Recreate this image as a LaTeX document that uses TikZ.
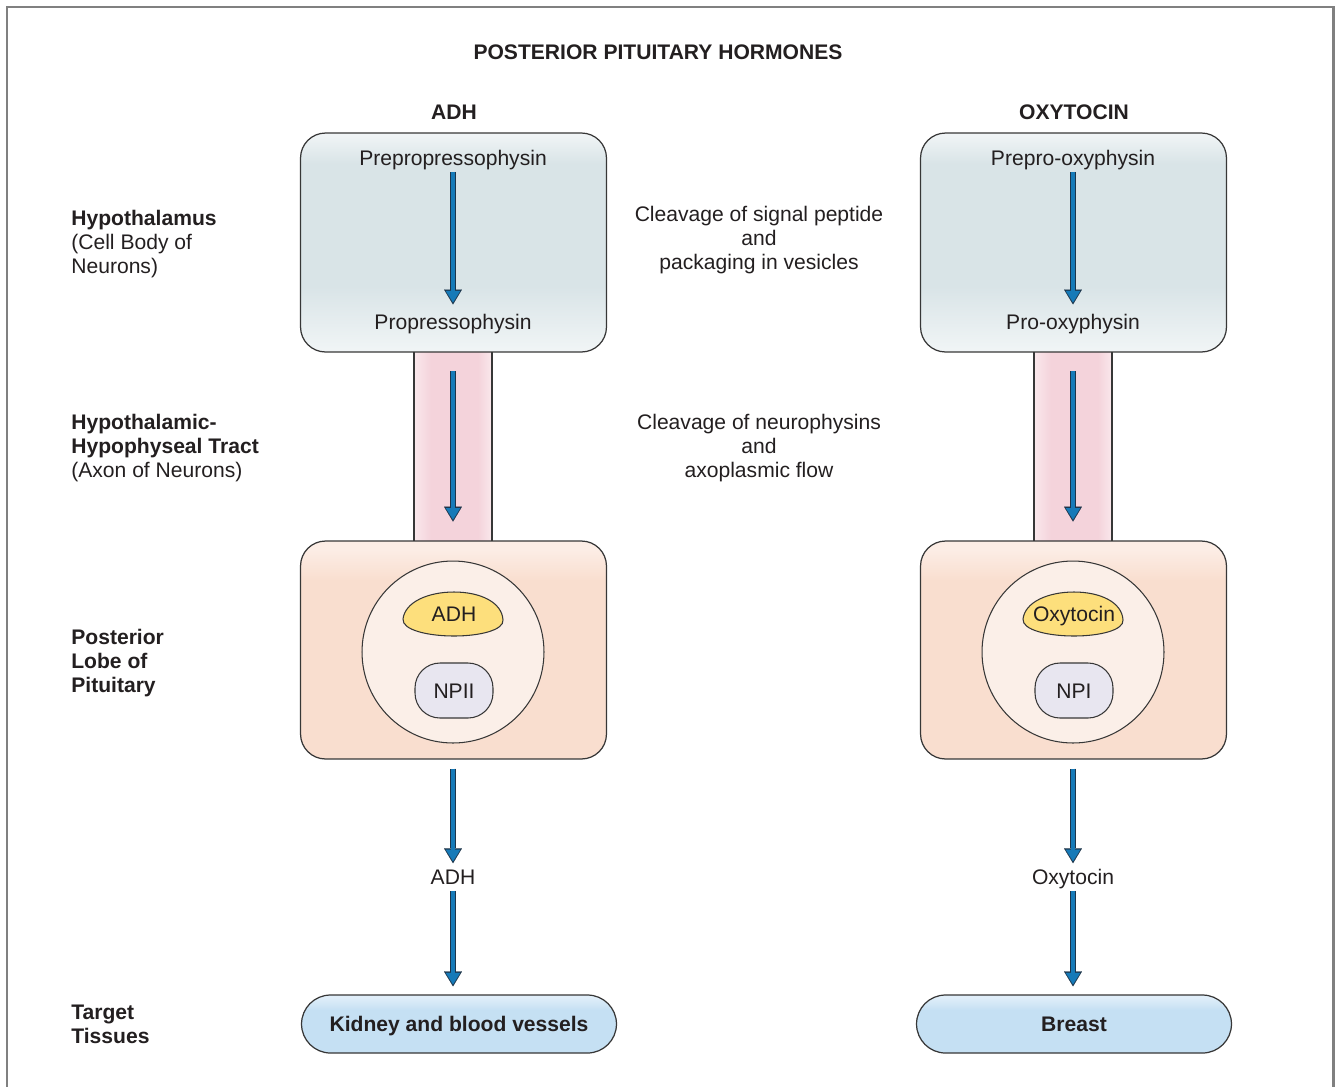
\documentclass[tikz,border=0pt]{standalone}
\usepackage{fontspec}
\setmainfont{Liberation Sans}
\usetikzlibrary{arrows.meta,calc}

\definecolor{inkgray}{RGB}{35,31,32}
\definecolor{edgegray}{RGB}{55,55,55}
\definecolor{framegray}{RGB}{128,128,128}
\definecolor{flowblue}{RGB}{22,122,184}
\definecolor{flowedge}{RGB}{28,52,74}
\definecolor{cellhi}{RGB}{241,245,246}
\definecolor{cellmid}{RGB}{217,228,231}
\definecolor{tracthi}{RGB}{250,232,236}
\definecolor{tractmid}{RGB}{244,211,219}
\definecolor{lobehi}{RGB}{252,237,229}
\definecolor{lobemid}{RGB}{249,222,207}
\definecolor{vesiclefill}{RGB}{251,239,232}
\definecolor{hormoneyellow}{RGB}{253,223,124}
\definecolor{npfill}{RGB}{232,230,240}
\definecolor{targethi}{RGB}{224,238,249}
\definecolor{targetmid}{RGB}{197,224,243}

\pgfdeclareverticalshading{cellshade}{100bp}{color(0bp)=(cellhi); color(25bp)=(cellhi); color(40bp)=(cellmid); color(68bp)=(cellmid); color(75bp)=(cellhi); color(100bp)=(cellhi)}
\pgfdeclarehorizontalshading{tractshade}{100bp}{color(0bp)=(tracthi); color(25bp)=(tracthi); color(36bp)=(tractmid); color(66bp)=(tractmid); color(75bp)=(tracthi); color(100bp)=(tracthi)}
\pgfdeclareverticalshading{lobeshade}{100bp}{color(0bp)=(lobemid); color(25bp)=(lobemid); color(66bp)=(lobemid); color(73bp)=(lobehi); color(100bp)=(lobehi)}
\pgfdeclareverticalshading{targetshade}{100bp}{color(0bp)=(targetmid); color(25bp)=(targetmid); color(62bp)=(targetmid); color(73bp)=(targethi); color(100bp)=(targethi)}

\newcommand{\figfont}{\fontsize{12pt}{13.6pt}\selectfont}

\begin{document}
\begin{tikzpicture}[x=0.02cm, y=-0.02cm, font=\figfont,
	every node/.style={text=inkgray},
	word/.style={text height=8.6pt, text depth=0pt},
	box/.style={draw=edgegray, line width=0.7pt, rounded corners=0.5cm, minimum width=6.12cm},
	cellbox/.style={box, minimum height=4.38cm, shade, shading=cellshade},
	lobebox/.style={box, minimum height=4.36cm, shade, shading=lobeshade},
	tract/.style={draw=edgegray, line width=0.7pt, minimum width=1.56cm, minimum height=3.94cm, shade, shading=tractshade},
	vesicle/.style={circle, draw=edgegray, line width=0.6pt, fill=vesiclefill, minimum size=3.64cm},
	blob/.style={draw=edgegray, line width=0.6pt, fill=hormoneyellow},
	npbox/.style={word, draw=edgegray, line width=0.6pt, fill=npfill, rounded corners=0.5cm, minimum width=1.56cm, minimum height=1.1cm},
	target/.style={word, draw=edgegray, line width=0.7pt, rounded corners=0.58cm, minimum width=6.3cm, minimum height=1.16cm, shade, shading=targetshade, font=\figfont\bfseries},
	flow/.style={preaction={draw=flowedge, line width=3.1pt, shorten >=0pt, -{Triangle[width=10.2pt,length=8.5pt,line width=0.1pt]}},
		draw=flowblue, line width=2pt, shorten >=1.1pt, -{Triangle[width=8.2pt,length=6.6pt,line width=0.1pt]}},
	sidelabel/.style={anchor=west, align=left, inner sep=0pt},
	note/.style={align=center},
	header/.style={word, font=\figfont\bfseries}]
	\useasboundingbox (0,0) rectangle (1335,1086);
	% frame, open at the bottom
	\draw[framegray, line width=1.7pt] (7,1095) -- (7,7) -- (1333,7) -- (1333,1095);
	\node[header] (title) at (658,52) {POSTERIOR PITUITARY HORMONES};
	% row labels
	\node[sidelabel] (hypo) at (71,244) {\textbf{Hypothalamus}\\(Cell Body of\\Neurons)};
	\node[sidelabel] (axon) at (71,448) {\textbf{Hypothalamic-}\\\textbf{Hypophyseal Tract}\\(Axon of Neurons)};
	\node[sidelabel, font=\figfont\bfseries] (lobelbl) at (71,663) {Posterior\\Lobe of\\Pituitary};
	\node[sidelabel, font=\figfont\bfseries] (tissues) at (71,1024) {Target\\Tissues};
	% steps between the columns
	\node[note] (step1) at (759,240) {Cleavage of signal peptide\\and\\packaging in vesicles};
	\node[note] (step2) at (759,448) {Cleavage of neurophysins\\and\\axoplasmic flow};
	% one column per hormone
	\foreach \cx/\tx/\hd/\pre/\pro/\hm/\np/\tgt/\id in {453/6/ADH/Prepropressophysin/Propressophysin/ADH/NPII/Kidney and blood vessels/a,
		1073/1/OXYTOCIN/Prepro-oxyphysin/Pro-oxyphysin/Oxytocin/NPI/Breast/b} {
		\begin{scope}[shift={(\cx,0)}]
			\node[header] (head\id) at (1,112) {\hd};
			\node[tract] (tract\id) at (0,446.5) {};
			\node[cellbox] (cell\id) at (0.5,242.5) {};
			\node[word] (pre\id) at (0,158) {\pre};
			\node[word, inner ysep=5.5pt] (pro\id) at (0,322) {\pro};
			\draw[flow] (pre\id) -- (pro\id);
			\draw[flow] ($(tract\id.north)+(0,24)$) -- ($(tract\id.south)-(0,24)$);
			\node[lobebox] (lobe\id) at (0.5,650) {};
			\node[vesicle] (ves\id) at (0,652) {};
			\coordinate (blob\id) at (1,614);
			\draw[blob, shift={(1,614)}] (-51,5) .. controls (-49,-12) and (-26,-22) .. (0,-22)
				.. controls (26,-22) and (48,-12) .. (49,6) .. controls (50,16) and (26,22) .. (0,22)
				.. controls (-26,22) and (-52,16) .. (-51,5) -- cycle;
			\node[word] (hm\id) at (blob\id) {\hm};
			\node[npbox] (np\id) at (1,690.5) {\np};
			\node[word] (rel\id) at (0,877) {\hm};
			\node[target] (tgt\id) at (\tx,1024) {\tgt};
			\draw[flow] ($(lobe\id.south -| rel\id)+(0,9)$) -- (rel\id);
			\draw[flow] (rel\id) -- ($(rel\id |- tgt\id.north)-(0,8)$);
		\end{scope}
	}
\end{tikzpicture}
\end{document}
